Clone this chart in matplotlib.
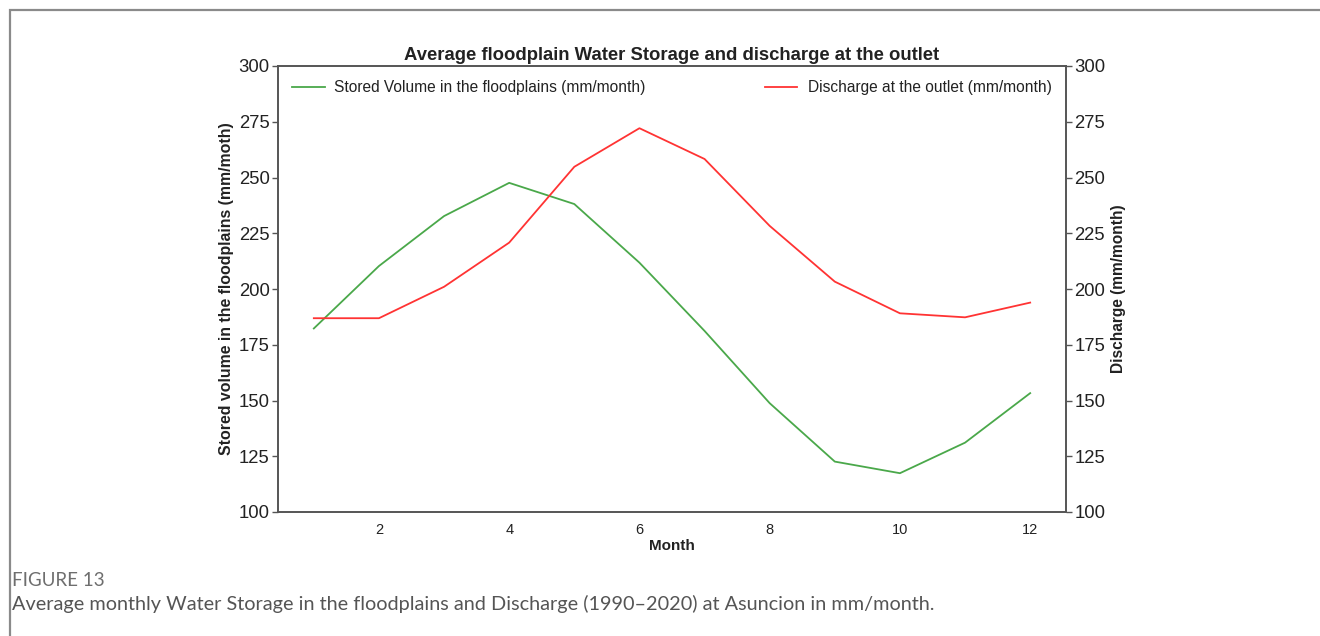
import matplotlib.pyplot as plt
from matplotlib.patches import Rectangle

months = [1, 2, 3, 4, 5, 6, 7, 8, 9, 10, 11, 12]
stored_volume = [182.3, 210.3, 232.7, 247.6, 238.1, 211.8, 181.2, 148.8, 122.6, 117.4, 131.1, 153.3]
discharge = [186.9, 186.9, 201.0, 220.8, 254.8, 272.1, 258.3, 228.3, 203.3, 189.1, 187.3, 193.9]
y_ticks = [100, 125, 150, 175, 200, 225, 250, 275, 300]
x_ticks = [2, 4, 6, 8, 10, 12]

plt.rcParams['font.family'] = ['Liberation Sans', 'DejaVu Sans']

fig = plt.figure(figsize=(13.2, 6.36), dpi=100)

# page frame around the figure panel
fig.patches.append(Rectangle((10 / 1320, -0.05), 1.1, 1 - 10 / 636 + 0.05,
                             transform=fig.transFigure, fill=False,
                             edgecolor='#8a8a8a', linewidth=1.6))

ax1 = fig.add_axes([278 / 1320, 1 - 512 / 636, (1066 - 278) / 1320, (512 - 66) / 636])
ax2 = ax1.twinx()

spine_col = '#555555'
text_col = '#222222'

ax1.plot(months, stored_volume, color='#4aa84a', linewidth=1.3,
         label='Stored Volume in the floodplains (mm/month)')
ax2.plot(months, discharge, color='#ff3333', linewidth=1.3,
         label='Discharge at the outlet (mm/month)')

for ax in (ax1, ax2):
    ax.set_ylim(100, 300)
    ax.set_yticks(y_ticks)
    for s in ax.spines.values():
        s.set_color(spine_col)
        s.set_linewidth(1.2)
    ax.tick_params(axis='y', labelsize=13.3, colors=spine_col, labelcolor=text_col,
                   length=4, width=1, pad=2)

ax1.set_xticks(x_ticks)
ax1.tick_params(axis='x', length=0, labelsize=10.5, labelcolor=text_col, pad=8)

ax1.set_xlabel('Month', fontsize=11, fontweight='bold', color=text_col, labelpad=1)
ax1.set_ylabel('Stored volume in the floodplains (mm/moth)', fontsize=11.4,
               fontweight='bold', color=text_col, labelpad=3)
ax2.set_ylabel('Discharge (mm/month)', fontsize=11.2, fontweight='bold',
               color=text_col, labelpad=4)
ax1.set_title('Average floodplain Water Storage and discharge at the outlet',
              fontsize=13.3, fontweight='bold', color=text_col, pad=4)

ax1.legend(loc='upper left', frameon=False, fontsize=11.2, labelcolor=text_col,
           borderaxespad=0.5, handlelength=2.1, handletextpad=0.6)
ax2.legend(loc='upper right', frameon=False, fontsize=11.2, labelcolor=text_col,
           borderaxespad=0.5, handlelength=2.1, handletextpad=0.7)

fig.text(12 / 1320, 1 - 580 / 636, 'FIGURE 13', fontsize=13.5, color='#6e6e6e',
         family=['Lato', 'DejaVu Sans'], va='center')
fig.text(12 / 1320, 1 - 604 / 636,
         'Average monthly Water Storage in the floodplains and Discharge (1990\u20132020) at Asuncion in mm/month.',
         fontsize=14.3, color='#555555', family=['Lato', 'DejaVu Sans'], va='center')

fig.savefig('out.png', dpi=100)
